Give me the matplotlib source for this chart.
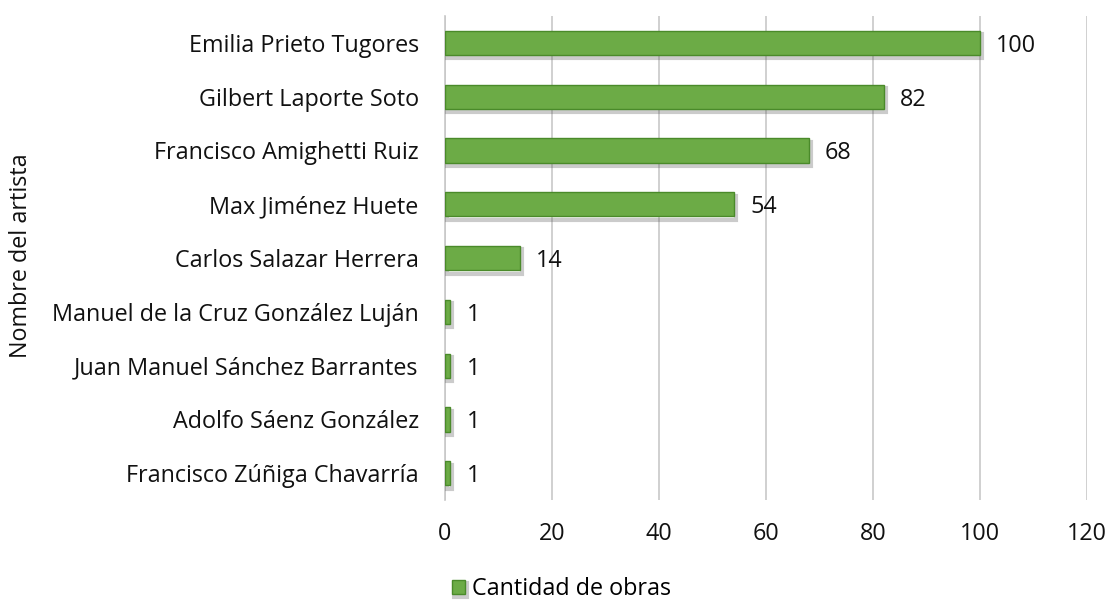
import matplotlib
matplotlib.use("Agg")
import matplotlib.pyplot as plt
import matplotlib.patheffects as pe

artists = ["Emilia Prieto Tugores", "Gilbert Laporte Soto", "Francisco Amighetti Ruiz",
           "Max Jiménez Huete", "Carlos Salazar Herrera", "Manuel de la Cruz González Luján",
           "Juan Manuel Sánchez Barrantes", "Adolfo Sáenz González", "Francisco Zúñiga Chavarría"]
obras = [100, 82, 68, 54, 14, 1, 1, 1, 1]
xticks = [0, 20, 40, 60, 80, 100, 120]

FS = 16.8
plt.rcParams['font.family'] = ['Open Sans', 'DejaVu Sans']
fig = plt.figure(figsize=(11.12, 6.04), dpi=100)
ax = fig.add_axes([0.4002, 0.172, 0.5773, 0.8015])

ypos = list(range(len(artists)))
bars = ax.barh(ypos, obras, height=0.45, color='#6CAB46', edgecolor='#4A8A2A', linewidth=1.0,
               label='Cantidad de obras', zorder=3)
for b in bars:
    b.set_path_effects([pe.SimpleLineShadow(offset=(1.5, -2.5), shadow_color='#555555', alpha=0.3, linewidth=3),
                        pe.Normal()])
for y, v in zip(ypos, obras):
    ax.text(v + 3, y, str(v), va='center_baseline', ha='left', fontsize=FS, color='#111111')

ax.set_ylim(len(artists) - 0.5, -0.5)
ax.set_xlim(0, 120)
ax.set_xticks(xticks)
ax.set_yticks(ypos)
ax.set_yticklabels(artists)
ax.tick_params(axis='both', length=0, labelsize=FS, colors='#111111')
ax.tick_params(axis='y', pad=19)
ax.tick_params(axis='x', pad=16)
ax.grid(axis='x', color='#C8C8C8', linewidth=1.2, zorder=0)
for s in ['top', 'right', 'bottom']:
    ax.spines[s].set_visible(False)
ax.spines['left'].set_color('#C8C8C8')
ax.spines['left'].set_linewidth(1.2)
ax.set_ylabel('Nombre del artista', fontsize=FS, color='#111111')
ax.yaxis.set_label_coords(-0.642, 0.505)

fig.legend(handles=[bars], labels=['Cantidad de obras'], loc='center', bbox_to_anchor=(0.505, 0.025),
           frameon=False, fontsize=FS, handlelength=0.55, handleheight=0.55, handletextpad=0.3,
           borderpad=0.1)

fig.savefig('out.png', dpi=100)
